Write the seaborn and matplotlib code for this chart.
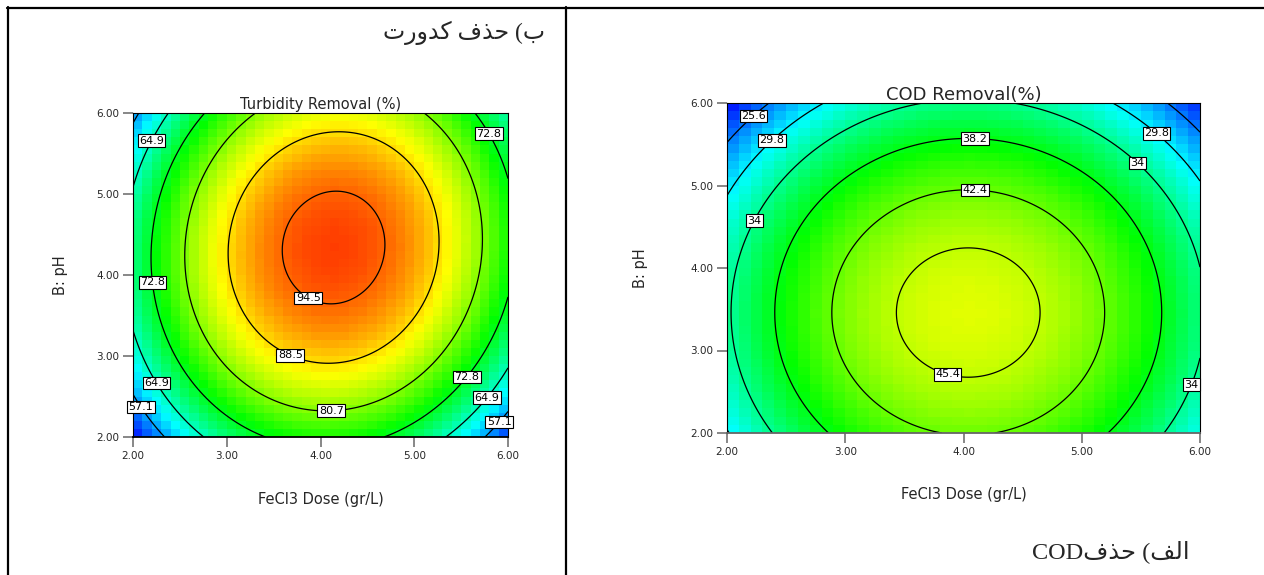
import numpy as np
import pandas as pd
import matplotlib
matplotlib.use("Agg")
import matplotlib.pyplot as plt
import seaborn as sns
from matplotlib.colors import LinearSegmentedColormap
from matplotlib.lines import Line2D

# ---------------- data ----------------
# Quadratic response surfaces, actual factors: A = FeCl3 dose (gr/L), B = pH
# Y = b0 + bA*A + bB*B + bAB*A*B + bAA*A^2 + bBB*B^2
coef_terms = ["b0", "A", "B", "AB", "A2", "B2"]
turb_coef = [-74.10, 49.41, 31.43, 0.50, -6.23, -3.86]
cod_coef = [-26.82, 25.21, 12.975, 0.00, -3.12, -1.875]

turb_levels = [57.1, 64.9, 72.8, 80.7, 88.5, 94.5]
turb_level_text = ["57.1", "64.9", "72.8", "80.7", "88.5", "94.5"]
cod_levels = [25.6, 29.8, 34.0, 38.2, 42.4, 45.4]
cod_level_text = ["25.6", "29.8", "34", "38.2", "42.4", "45.4"]

turb_color_range = [49.2, 99.5]
cod_color_range = [21.5, 56.3]

tick_values = [2.0, 3.0, 4.0, 5.0, 6.0]
tick_labels = ["2.00", "3.00", "4.00", "5.00", "6.00"]
factor_range = [2.0, 6.0]

turb_title = "Turbidity Removal (%)"
cod_title = "COD Removal(%)"
x_title = "FeCl3 Dose (gr/L)"
y_title = "B: pH"
# "ب) حذف کدورت" and "الف) حذفCOD" written in visual order with Arabic presentation forms
turb_caption = "\uFE95\uFEAD\uFEED\uFEAA\uFEDB \uFED1\uFEAC\uFEA3 (\uFE8F"
cod_caption = "COD\uFED1\uFEAC\uFEA3 (\uFED2\uFEDF\uFE8D"

# label anchor spots (layout, not data)
turb_label_spots = [(2.15, 5.69), (5.86, 5.79), (2.21, 3.91), (3.91, 3.80),
                    (3.72, 3.12), (2.30, 2.70), (2.15, 2.42), (4.11, 2.46),
                    (5.53, 2.77), (5.74, 2.52), (5.87, 2.22)]
cod_label_spots = [(2.20, 5.88), (2.36, 5.58), (2.21, 4.59), (4.10, 5.67),
                   (4.10, 5.04), (3.88, 2.79), (5.66, 5.68), (5.50, 5.32),
                   (5.90, 2.60)]

N_CELLS = 40
cmap = LinearSegmentedColormap.from_list(
    "de", ["#0000ff", "#00ffff", "#00ff00", "#ffff00", "#ff0000"])


def surface(coef, A, B):
    b0, bA, bB, bAB, bAA, bBB = coef
    return b0 + bA * A + bB * B + bAB * A * B + bAA * A ** 2 + bBB * B ** 2


sns.set_style("white")
plt.rcParams["font.family"] = ["DejaVu Sans"]

fig = plt.figure(figsize=(12.64, 5.75), dpi=100)
fig.patch.set_facecolor("white")

W, H = 1264.0, 575.0


def panel(rect_px, coef, levels, level_text, crange, title, title_size,
          spots, title_pad, bottom_spine_color):
    l, t, r, b = rect_px
    pos = [l / W, 1 - b / H, (r - l) / W, (b - t) / H]
    lo, hi = factor_range
    step = (hi - lo) / N_CELLS
    centers = lo + step * (np.arange(N_CELLS) + 0.5)
    A, B = np.meshgrid(centers, centers[::-1])
    cells = pd.DataFrame(surface(coef, A, B),
                         index=np.round(centers[::-1], 2),
                         columns=np.round(centers, 2))
    axh = fig.add_axes(pos)
    sns.heatmap(cells, ax=axh, cmap=cmap, vmin=crange[0], vmax=crange[1],
                cbar=False, xticklabels=False, yticklabels=False)
    axh.set_xlabel("")
    axh.set_ylabel("")
    axh.set_axis_off()

    ax = fig.add_axes(pos)
    ax.set_facecolor("none")
    fine = np.linspace(lo, hi, 401)
    FA, FB = np.meshgrid(fine, fine)
    cs = ax.contour(FA, FB, surface(coef, FA, FB), levels=levels,
                    colors="black", linewidths=0.9)
    fmt = {lv: tx for lv, tx in zip(levels, level_text)}
    labels = ax.clabel(cs, levels=levels, manual=spots, inline=False,
                       fmt=fmt, fontsize=8)
    for tx in labels:
        tx.set_rotation(0)
        tx.set_color("black")
        tx.set_clip_on(False)
        tx.set_zorder(10)
        tx.set_bbox(dict(boxstyle="square,pad=0.12", fc="white",
                         ec="black", lw=0.8))
    ax.set_xlim(lo, hi)
    ax.set_ylim(lo, hi)
    ax.set_xticks(tick_values, tick_labels)
    ax.set_yticks(tick_values, tick_labels)
    ax.tick_params(direction="out", length=7, width=1.2, color="0.45",
                   labelsize=7.5, labelcolor="0.15", pad=3,
                   bottom=True, left=True)
    for s in ax.spines.values():
        s.set_color("black")
        s.set_linewidth(0.8)
    ax.spines["bottom"].set_color(bottom_spine_color)
    ax.spines["bottom"].set_linewidth(1.3)
    ax.set_title(title, fontsize=title_size, pad=title_pad)
    ax.set_xlabel(x_title, fontsize=10.5)
    ax.set_ylabel(y_title, fontsize=10.5)
    return ax


ax1 = panel((133, 113, 508, 437), turb_coef, turb_levels, turb_level_text,
            turb_color_range, turb_title, 10.5, turb_label_spots, 3, "black")
ax1.yaxis.set_label_coords(-0.173, 0.5)
ax1.xaxis.set_label_coords(0.5, -0.17)

ax2 = panel((727, 103, 1200, 433), cod_coef, cod_levels, cod_level_text,
            cod_color_range, cod_title, 13, cod_label_spots, 2, "0.4")
ax2.yaxis.set_label_coords(-0.167, 0.5)
ax2.xaxis.set_label_coords(0.5, -0.165)

# table borders
lw = 1.6
fig.add_artist(Line2D([7 / W, 1.0], [1 - 7.5 / H, 1 - 7.5 / H], color="black", lw=lw))
fig.add_artist(Line2D([7.5 / W, 7.5 / W], [0.0, 1 - 7 / H], color="black", lw=lw))
fig.add_artist(Line2D([566 / W, 566 / W], [0.0, 1 - 7 / H], color="black", lw=lw))

cap_font = ["Liberation Serif", "DejaVu Sans"]
fig.text(545 / W, 1 - 33 / H, turb_caption, ha="right", va="center",
         fontsize=17, family=cap_font)
fig.text(1190 / W, 1 - 552 / H, cod_caption, ha="right", va="center",
         fontsize=17.5, family=cap_font)

fig.savefig("out.png", dpi=100, facecolor="white")
